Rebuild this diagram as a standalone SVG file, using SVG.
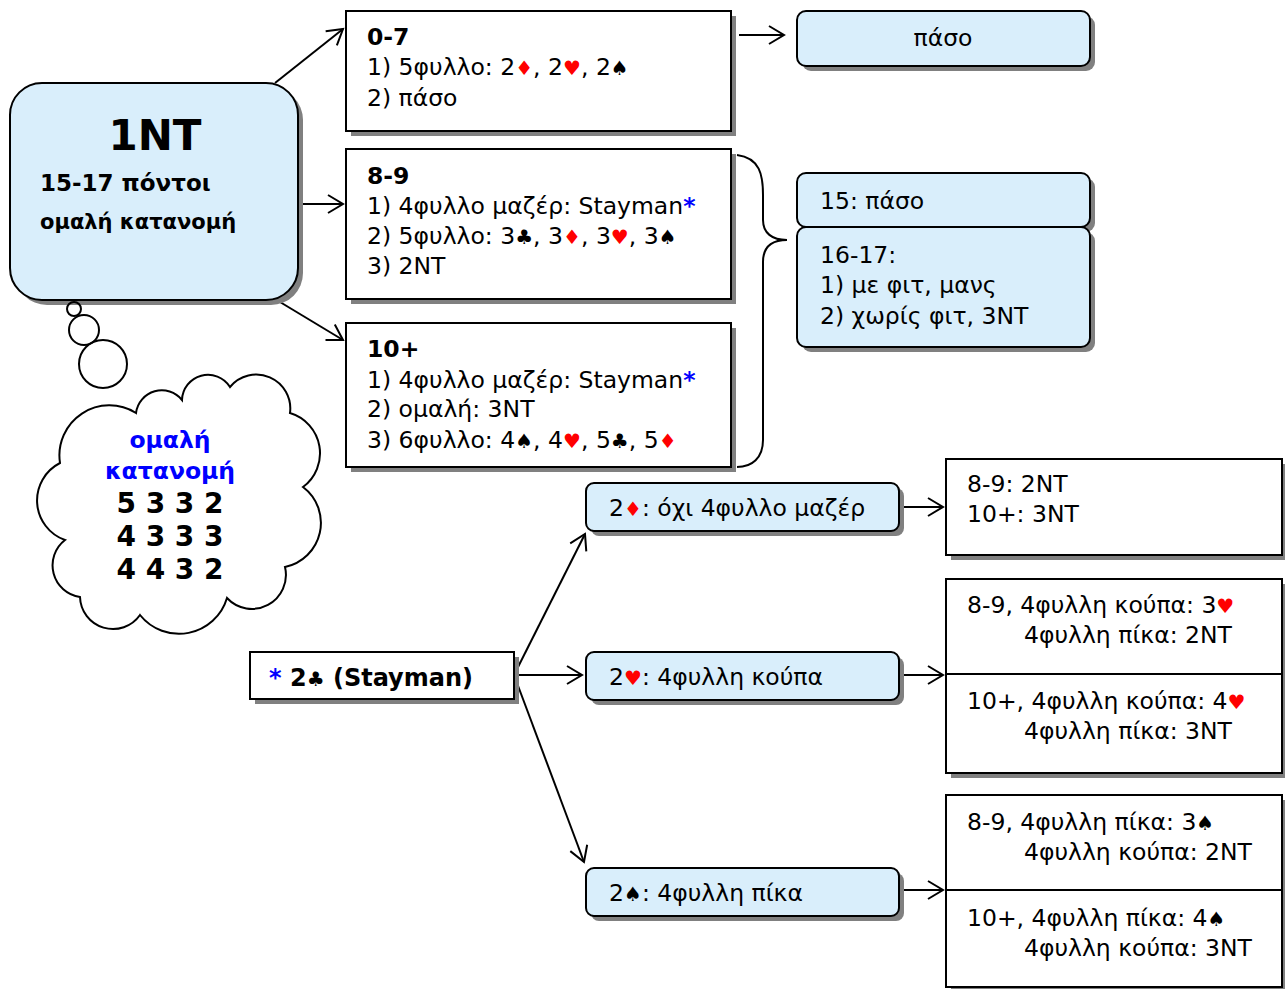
<svg xmlns="http://www.w3.org/2000/svg" width="1285" height="989" viewBox="0 0 1285 989">
<defs>
<style>
text{font-family:"DejaVu Sans","Noto Sans",sans-serif;font-size:23.5px;fill:#000}
.b{font-weight:bold}
.box{fill:#fff;stroke:#000;stroke-width:2}
.rbox{fill:#d9eefb;stroke:#000;stroke-width:2}
.sh{fill:#808080;stroke:none}
.r{fill:#f00}
.blue{fill:#00f}
.s{font-size:20px}
.ln{fill:none;stroke:#000;stroke-width:2}
</style>
<marker id="ah" markerUnits="userSpaceOnUse" markerWidth="22" markerHeight="22" refX="16" refY="10" orient="auto" viewBox="0 0 22 20">
<path d="M1,1 L16,10 L1,19" fill="none" stroke="#000" stroke-width="2"/>
</marker>
</defs>
<rect width="1285" height="989" fill="#fff"/>

<g id="connectors">
<line class="ln" x1="275" y1="83" x2="343" y2="29" marker-end="url(#ah)"/>
<line class="ln" x1="302" y1="204" x2="343" y2="204" marker-end="url(#ah)"/>
<line class="ln" x1="280" y1="302" x2="343" y2="340" marker-end="url(#ah)"/>
<line class="ln" x1="739" y1="35" x2="784" y2="35" marker-end="url(#ah)"/>
<path class="ln" d="M737,155 C760,158 763,175 763,195 L763,220 C763,233 772,240 787,240 C772,240 763,247 763,262 L763,440 C763,458 752,467 737,467"/>
<line class="ln" x1="514" y1="675" x2="585" y2="534" marker-end="url(#ah)"/>
<line class="ln" x1="514" y1="675" x2="582" y2="675" marker-end="url(#ah)"/>
<line class="ln" x1="514" y1="675" x2="584" y2="862" marker-end="url(#ah)"/>
<line class="ln" x1="904" y1="507" x2="943" y2="507" marker-end="url(#ah)"/>
<line class="ln" x1="904" y1="675" x2="943" y2="675" marker-end="url(#ah)"/>
<line class="ln" x1="904" y1="890" x2="943" y2="890" marker-end="url(#ah)"/>
</g>

<g id="n1NT">
<rect class="sh" x="15" y="88" width="288" height="217" rx="32"/>
<rect class="rbox" x="10" y="83" width="288" height="217" rx="32"/>
<text class="b" x="155" y="150" text-anchor="middle" style="font-size:42px">1NT</text>
<text class="b" x="40" y="191" style="font-size:23px">15-17 πόντοι</text>
<text class="b" x="40" y="229" style="font-size:21px">ομαλή κατανομή</text>
</g>

<g id="cloud">
<circle class="ln" cx="74" cy="309" r="7"/>
<circle class="ln" cx="84" cy="330" r="15"/>
<circle class="ln" cx="103" cy="364" r="24"/>
<path fill="#fff" stroke="#000" stroke-width="2" d="M136,413 A26,26 0 0 1 182,400 A26,26 0 0 1 230,387 A34,34 0 0 1 290,413 A42,42 0 0 1 303,487 A45,45 0 0 1 285,567 A34,34 0 0 1 227,598 A50,50 0 0 1 140,615 A33,33 0 0 1 80,597 A32,32 0 0 1 65,540 A42,42 0 0 1 60,463 A50,50 0 0 1 136,413 Z"/>
<text class="b blue" x="170" y="448" text-anchor="middle">ομαλή</text>
<text class="b blue" x="170" y="479" text-anchor="middle">κατανομή</text>
<text class="b" x="170" y="513" text-anchor="middle" style="font-size:28px">5 3 3 2</text>
<text class="b" x="170" y="546" text-anchor="middle" style="font-size:28px">4 3 3 3</text>
<text class="b" x="170" y="579" text-anchor="middle" style="font-size:28px">4 4 3 2</text>
</g>

<g id="n07">
<rect class="sh" x="351" y="16" width="385" height="120"/>
<rect class="box" x="346" y="11" width="385" height="120"/>
<text class="b" x="367" y="45">0-7</text>
<text x="367" y="75">1) 5φυλλο: 2<tspan class="r s">♦</tspan>, 2<tspan class="r s">♥</tspan>, 2<tspan class="s">♠</tspan></text>
<text x="367" y="106">2) πάσο</text>
</g>

<g id="n89">
<rect class="sh" x="351" y="154" width="385" height="150"/>
<rect class="box" x="346" y="149" width="385" height="150"/>
<text class="b" x="367" y="184">8-9</text>
<text x="367" y="214">1) 4φυλλο μαζέρ: Stayman<tspan class="b blue">*</tspan></text>
<text x="367" y="244">2) 5φυλλο: 3<tspan class="s">♣</tspan>, 3<tspan class="r s">♦</tspan>, 3<tspan class="r s">♥</tspan>, 3<tspan class="s">♠</tspan></text>
<text x="367" y="274">3) 2NT</text>
</g>

<g id="n10">
<rect class="sh" x="351" y="328" width="385" height="144"/>
<rect class="box" x="346" y="323" width="385" height="144"/>
<text class="b" x="367" y="357">10+</text>
<text x="367" y="388">1) 4φυλλο μαζέρ: Stayman<tspan class="b blue">*</tspan></text>
<text x="367" y="417">2) ομαλή: 3NT</text>
<text x="367" y="448">3) 6φυλλο: 4<tspan class="s">♠</tspan>, 4<tspan class="r s">♥</tspan>, 5<tspan class="s">♣</tspan>, 5<tspan class="r s">♦</tspan></text>
</g>

<g id="npaso">
<rect class="sh" x="802" y="16" width="293" height="55" rx="9"/>
<rect class="rbox" x="797" y="11" width="293" height="55" rx="9"/>
<text x="943" y="46" text-anchor="middle">πάσο</text>
</g>

<g id="n15">
<rect class="sh" x="802" y="178" width="293" height="54" rx="9"/>
<rect class="rbox" x="797" y="173" width="293" height="54" rx="9"/>
<text x="820" y="209">15: πάσο</text>
</g>

<g id="n1617">
<rect class="sh" x="802" y="232" width="293" height="120" rx="9"/>
<rect class="rbox" x="797" y="227" width="293" height="120" rx="9"/>
<text x="820" y="263">16-17:</text>
<text x="820" y="293">1) με φιτ, μανς</text>
<text x="820" y="324">2) χωρίς φιτ, 3NT</text>
</g>

<g id="nStayman">
<rect class="sh" x="255" y="657" width="264" height="47"/>
<rect class="box" x="250" y="652" width="264" height="47"/>
<text class="b" x="269" y="686" style="font-size:24px"><tspan class="blue">*</tspan> 2<tspan class="s">♣</tspan> (Stayman)</text>
</g>

<g id="n2d">
<rect class="sh" x="591" y="488" width="313" height="48" rx="8"/>
<rect class="rbox" x="586" y="483" width="313" height="48" rx="8"/>
<text x="609" y="516">2<tspan class="r s">♦</tspan>: όχι 4φυλλο μαζέρ</text>
</g>

<g id="n2h">
<rect class="sh" x="591" y="657" width="313" height="48" rx="8"/>
<rect class="rbox" x="586" y="652" width="313" height="48" rx="8"/>
<text x="609" y="685">2<tspan class="r s">♥</tspan>: 4φυλλη κούπα</text>
</g>

<g id="n2s">
<rect class="sh" x="591" y="873" width="313" height="48" rx="8"/>
<rect class="rbox" x="586" y="868" width="313" height="48" rx="8"/>
<text x="609" y="901">2<tspan class="s">♠</tspan>: 4φυλλη πίκα</text>
</g>

<g id="r2d">
<rect class="sh" x="951" y="464" width="336" height="96"/>
<rect class="box" x="946" y="459" width="336" height="96"/>
<text x="967" y="492">8-9: 2NT</text>
<text x="967" y="522">10+: 3NT</text>
</g>

<g id="r2h">
<rect class="sh" x="951" y="584" width="336" height="194"/>
<rect class="box" x="946" y="579" width="336" height="194"/>
<line class="ln" x1="946" y1="674" x2="1282" y2="674"/>
<text x="967" y="613">8-9, 4φυλλη κούπα: 3<tspan class="r s">♥</tspan></text>
<text x="1024" y="643">4φυλλη πίκα: 2NT</text>
<text x="967" y="709">10+, 4φυλλη κούπα: 4<tspan class="r s">♥</tspan></text>
<text x="1024" y="739">4φυλλη πίκα: 3NT</text>
</g>

<g id="r2s">
<rect class="sh" x="951" y="800" width="336" height="194"/>
<rect class="box" x="946" y="795" width="336" height="192"/>
<line class="ln" x1="946" y1="890" x2="1282" y2="890"/>
<text x="967" y="830">8-9, 4φυλλη πίκα: 3<tspan class="s">♠</tspan></text>
<text x="1024" y="860">4φυλλη κούπα: 2NT</text>
<text x="967" y="926">10+, 4φυλλη πίκα: 4<tspan class="s">♠</tspan></text>
<text x="1024" y="956">4φυλλη κούπα: 3NT</text>
</g>
</svg>
